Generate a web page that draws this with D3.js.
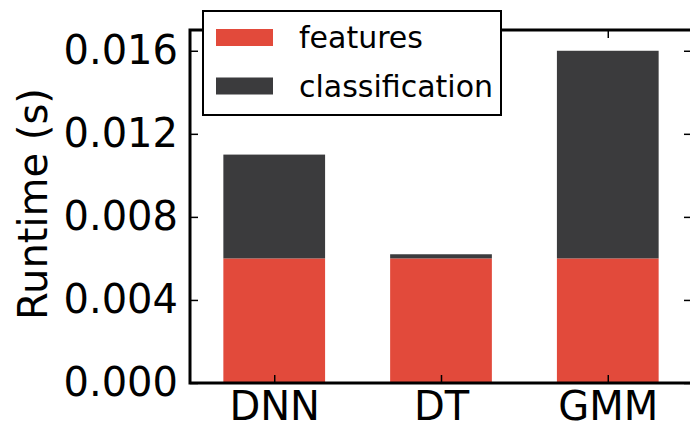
<!DOCTYPE html>
<html>
<head>
<meta charset="utf-8">
<script src="https://cdn.jsdelivr.net/npm/d3@7"></script>
<style>
  body { margin: 0; background: #fff; }
  svg { display: block; font-family: "DejaVu Sans", sans-serif; }
  .axis path { display: none; }
  .axis line { stroke: #000; stroke-width: 1.5; }
  .axis text { font-size: 40px; fill: #000; font-family: "DejaVu Sans", sans-serif; }
</style>
</head>
<body>
<div class="result"></div>
<script>
// Data
const models = ['DNN', 'DT', 'GMM'];
const features = [0.006, 0.006, 0.006];
const classification = [0.005, 0.0002, 0.010];
const yTicks = [0, 0.004, 0.008, 0.012, 0.016];
const seriesNames = ['features', 'classification'];
const colors = ['#e24a3b', '#3b3b3d'];

// Width and height
const w = 690;
const h = 426;
const mLeft = 190, mRight = 692, mTop = 30, mBottom = 383;

const rows = models.map((m, i) => ({ model: m, features: features[i], classification: classification[i] }));
const stacked = d3.stack().keys(seriesNames)(rows);

// Scales
const xScale = d3.scaleBand()
  .domain(models)
  .range([mLeft, mRight])
  .paddingInner(0.39)
  .paddingOuter(0.2);

const yScale = d3.scaleLinear()
  .domain([0, 0.017])
  .range([mBottom, mTop]);

const svg = d3.select('.result')
  .append('svg')
  .attr('width', w)
  .attr('height', h);

// Bars
svg.selectAll('g.series')
  .data(stacked)
  .enter()
  .append('g')
  .attr('class', 'series')
  .attr('fill', (d, i) => colors[i])
  .selectAll('rect')
  .data(d => d)
  .enter()
  .append('rect')
  .attr('x', d => xScale(d.data.model))
  .attr('width', xScale.bandwidth())
  .attr('y', d => yScale(d[1]))
  .attr('height', d => yScale(d[0]) - yScale(d[1]));

// Axes (ticks pointing inward)
const fmt = d3.format('.3f');
svg.append('g')
  .attr('class', 'axis')
  .attr('transform', 'translate(' + mLeft + ',0)')
  .call(d3.axisLeft(yScale).tickValues(yTicks).tickFormat(fmt).tickSize(-8).tickPadding(12));

svg.append('g')
  .attr('class', 'axis')
  .attr('transform', 'translate(' + mRight + ',0)')
  .call(d3.axisRight(yScale).tickValues(yTicks).tickFormat('').tickSize(-8));

const half = xScale.bandwidth() / 2;
const xTickScale = d3.scalePoint()
  .domain(models)
  .range([xScale(models[0]) + half, xScale(models[models.length - 1]) + half]);

svg.append('g')
  .attr('class', 'axis')
  .attr('transform', 'translate(0,' + mBottom + ')')
  .call(d3.axisBottom(xTickScale).tickSize(-8).tickPadding(9));

svg.append('g')
  .attr('class', 'axis')
  .attr('transform', 'translate(0,' + mTop + ')')
  .call(d3.axisTop(xTickScale).tickFormat('').tickSize(-8));

// Frame
svg.append('rect')
  .attr('x', mLeft)
  .attr('y', mTop)
  .attr('width', mRight - mLeft)
  .attr('height', mBottom - mTop)
  .attr('fill', 'none')
  .attr('stroke', '#000')
  .attr('stroke-width', 3);

// Y label
svg.append('text')
  .attr('transform', 'translate(47,204) rotate(-90)')
  .attr('text-anchor', 'middle')
  .attr('font-size', 40)
  .text('Runtime (s)');

// Legend
const legend = svg.append('g');
legend.append('rect')
  .attr('x', 203)
  .attr('y', 11)
  .attr('width', 298)
  .attr('height', 104)
  .attr('fill', '#fff')
  .attr('stroke', '#000')
  .attr('stroke-width', 2);

const item = legend.selectAll('g.item')
  .data(seriesNames)
  .enter()
  .append('g')
  .attr('class', 'item')
  .attr('transform', (d, i) => 'translate(0,' + (i * 48.5) + ')');

item.append('rect')
  .attr('x', 216)
  .attr('y', 29)
  .attr('width', 57)
  .attr('height', 17)
  .attr('fill', (d, i) => colors[i]);

item.append('text')
  .attr('x', 299)
  .attr('y', 48)
  .attr('font-size', 30)
  .text(d => d);
</script>
</body>
</html>
